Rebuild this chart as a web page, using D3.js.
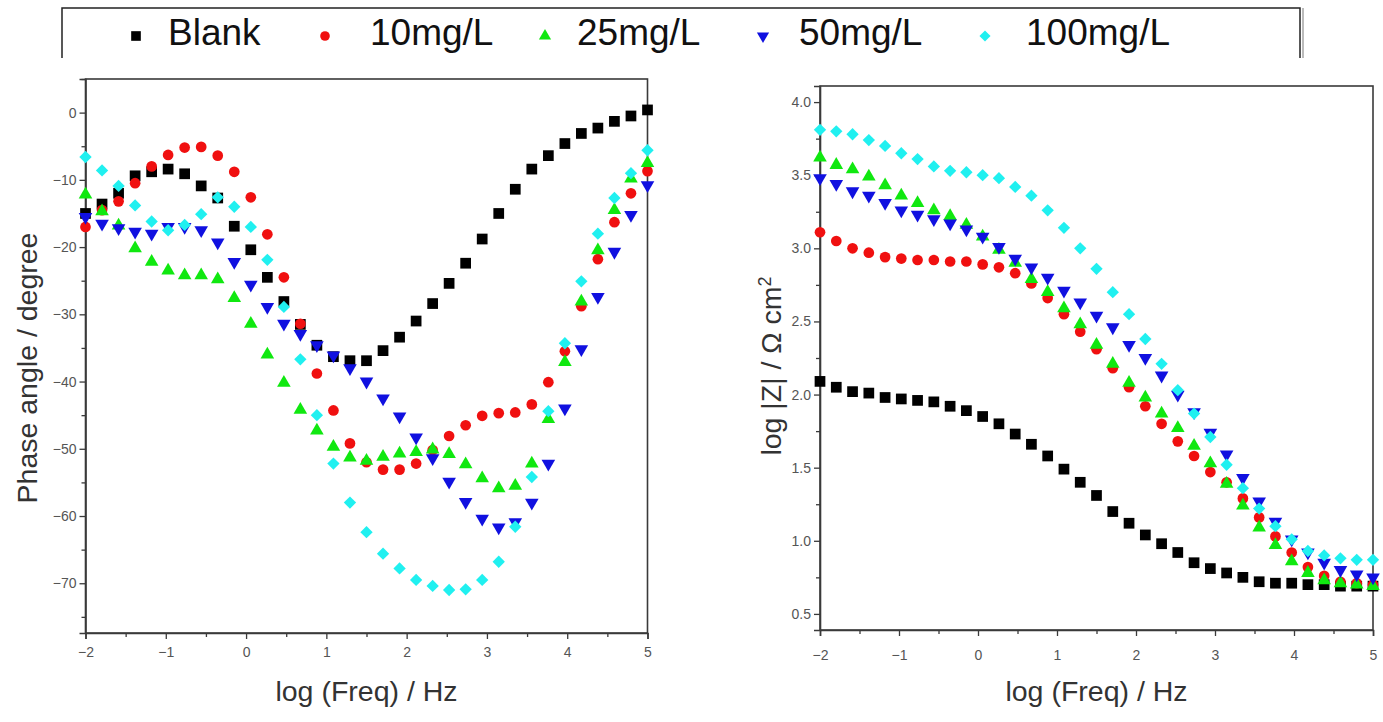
<!DOCTYPE html>
<html>
<head>
<meta charset="utf-8">
<script src="https://cdn.jsdelivr.net/npm/d3@7/dist/d3.min.js"></script>
<style>
  html, body { margin: 0; padding: 0; background: #fff; }
  svg { display: block; }
</style>
</head>
<body>
<svg id="chart" width="1383" height="722"></svg>
<script>
// ---------- DATA ----------
const seriesNames = ["Blank", "10mg/L", "25mg/L", "50mg/L", "100mg/L"];
const logFreq = [-2.000, -1.794, -1.588, -1.382, -1.176, -0.971, -0.765, -0.559, -0.353, -0.147,
                  0.059,  0.265,  0.471,  0.676,  0.882,  1.088,  1.294,  1.500,  1.706,  1.912,
                  2.118,  2.324,  2.529,  2.735,  2.941,  3.147,  3.353,  3.559,  3.765,  3.971,
                  4.176,  4.382,  4.588,  4.794,  5.000];

// Phase angle / degree
const phaseBlank = [-15.0, -13.6, -12.0, -9.4, -8.8, -8.4, -9.1, -10.9, -12.7, -16.9, -20.4, -24.5, -28.1, -31.5, -34.6, -36.3, -36.9, -36.9, -35.4, -33.4, -31.0, -28.4, -25.4, -22.4, -18.8, -15.0, -11.4, -8.4, -6.4, -4.6, -3.1, -2.3, -1.3, -0.5, 0.4];
const phase10 = [-17.0, -14.5, -13.2, -10.5, -8.0, -6.3, -5.2, -5.1, -6.4, -8.8, -12.6, -18.1, -24.5, -31.4, -38.8, -44.3, -49.2, -52.0, -53.1, -53.1, -52.2, -50.2, -48.1, -46.5, -45.1, -44.7, -44.6, -43.4, -40.1, -35.5, -28.8, -21.8, -16.3, -12.0, -8.7];
const phase25 = [-12.2, -14.7, -16.8, -20.2, -22.2, -23.5, -24.2, -24.2, -24.8, -27.6, -31.4, -36.0, -40.2, -44.2, -47.3, -49.7, -51.3, -51.8, -51.2, -50.7, -50.5, -50.1, -50.8, -52.3, -54.4, -55.9, -55.5, -52.2, -45.6, -37.1, -28.1, -20.5, -14.5, -9.8, -7.5];
const phase50 = [-15.5, -16.5, -17.2, -17.7, -18.0, -17.0, -17.0, -17.5, -19.3, -22.2, -25.6, -28.9, -31.4, -32.9, -34.6, -36.1, -38.0, -40.0, -42.5, -45.2, -48.3, -51.4, -54.9, -57.9, -60.4, -61.7, -60.9, -58.0, -52.2, -44.0, -35.2, -27.4, -20.7, -15.2, -10.8];
const phase100 = [-6.6, -8.6, -10.9, -13.8, -16.2, -17.5, -16.7, -15.1, -12.6, -14.0, -17.0, -21.9, -28.9, -36.7, -45.0, -52.2, -58.0, -62.4, -65.6, -67.8, -69.5, -70.4, -71.0, -70.9, -69.5, -66.8, -61.6, -54.2, -44.4, -34.3, -25.1, -18.0, -12.7, -9.0, -5.6];

// log |Z| / Ohm cm2
const logZBlank = [2.09, 2.05, 2.02, 2.01, 1.98, 1.97, 1.96, 1.95, 1.92, 1.89, 1.85, 1.80, 1.73, 1.66, 1.58, 1.49, 1.40, 1.31, 1.20, 1.12, 1.04, 0.98, 0.92, 0.85, 0.81, 0.78, 0.75, 0.72, 0.71, 0.71, 0.70, 0.70, 0.69, 0.69, 0.69];
const logZ10 = [3.11, 3.05, 3.00, 2.97, 2.94, 2.93, 2.92, 2.92, 2.91, 2.91, 2.89, 2.87, 2.83, 2.76, 2.66, 2.55, 2.43, 2.31, 2.18, 2.05, 1.92, 1.80, 1.68, 1.58, 1.47, 1.40, 1.29, 1.16, 1.03, 0.92, 0.82, 0.76, 0.72, 0.71, 0.70];
const logZ25 = [3.62, 3.57, 3.54, 3.49, 3.43, 3.36, 3.31, 3.26, 3.22, 3.16, 3.08, 2.99, 2.90, 2.79, 2.70, 2.59, 2.48, 2.34, 2.21, 2.08, 1.98, 1.87, 1.77, 1.65, 1.53, 1.39, 1.24, 1.09, 0.97, 0.86, 0.78, 0.73, 0.71, 0.70, 0.69];
const logZ50 = [3.48, 3.44, 3.39, 3.36, 3.31, 3.26, 3.23, 3.20, 3.17, 3.13, 3.08, 3.01, 2.93, 2.87, 2.80, 2.71, 2.63, 2.54, 2.46, 2.34, 2.25, 2.13, 2.00, 1.88, 1.74, 1.59, 1.43, 1.27, 1.13, 1.01, 0.92, 0.85, 0.80, 0.77, 0.75];
const logZ100 = [3.81, 3.80, 3.78, 3.74, 3.70, 3.65, 3.61, 3.56, 3.53, 3.52, 3.50, 3.48, 3.42, 3.36, 3.26, 3.14, 3.00, 2.86, 2.70, 2.55, 2.38, 2.21, 2.03, 1.87, 1.71, 1.52, 1.36, 1.22, 1.10, 1.01, 0.93, 0.90, 0.88, 0.87, 0.87];

const xTicks = [-2, -1, 0, 1, 2, 3, 4, 5];
const phaseTicks = [0, -10, -20, -30, -40, -50, -60, -70];
const logZTicks = [0.5, 1.0, 1.5, 2.0, 2.5, 3.0, 3.5, 4.0];

// ---------- STYLE ----------
const colors = ["#000000", "#f01010", "#10e810", "#1010e0", "#20f0f0"];
const shapes = ["square", "circle", "triUp", "triDown", "diamond"];
const tickFont = "'Liberation Sans Narrow', 'Liberation Sans', Arial, sans-serif";
const titleFont = "'Liberation Sans', Arial, sans-serif";

const svg = d3.select("#chart");

function symbolPath(shape, scale) {
  const s = scale || 1;
  switch (shape) {
    case "square": return d3.symbol(d3.symbolSquare, 115 * s * s)();
    case "circle": return d3.symbol(d3.symbolCircle, 90 * s * s)();
    case "triUp": return d3.symbol(d3.symbolTriangle, 80 * s * s)();
    case "triDown": return d3.symbol(d3.symbolTriangle, 80 * s * s)();
    case "diamond": return d3.symbol(d3.symbolSquare, 76 * s * s)();
  }
}
function symbolRot(shape) {
  if (shape === "triDown") return 180;
  if (shape === "diamond") return 45;
  return 0;
}

function drawPanel(opts) {
  const { x0, x1, y0, y1, yDomain, yTicks, yMinor, yFmt, series, yTitle, yTitleX, yTitleY, xTitleY, xLabelDy } = opts;
  const x = d3.scaleLinear().domain([-2, 5]).range([x0, x1]);
  const y = d3.scaleLinear().domain(yDomain).range([y1, y0]);
  const g = svg.append("g");

  // frame
  g.append("rect").attr("x", x0).attr("y", y0).attr("width", x1 - x0).attr("height", y1 - y0)
    .attr("fill", "none").attr("stroke", "#3a3a3a").attr("stroke-width", 1.6);

  // x axis
  const xMinor = d3.range(-1.5, 5, 1);
  g.append("g").attr("transform", `translate(0,${y1})`)
    .call(d3.axisBottom(x).tickValues(xTicks).tickFormat(d3.format("d")).tickSize(6).tickPadding(xLabelDy));
  g.append("g").attr("transform", `translate(0,${y1})`)
    .call(d3.axisBottom(x).tickValues(xMinor).tickFormat("").tickSize(4))
    .call(a => a.select(".domain").remove());

  // y axis
  g.append("g").attr("transform", `translate(${x0},0)`)
    .call(d3.axisLeft(y).tickValues(yTicks).tickFormat(yFmt).tickSize(6).tickPadding(3));
  g.append("g").attr("transform", `translate(${x0},0)`)
    .call(d3.axisLeft(y).tickValues(yMinor).tickFormat("").tickSize(4))
    .call(a => a.select(".domain").remove());

  g.selectAll(".domain").attr("stroke", "#3a3a3a").attr("stroke-width", 1.6);
  g.selectAll(".tick line").attr("stroke", "#3a3a3a").attr("stroke-width", 1.3);
  g.selectAll(".tick text").attr("font-family", tickFont).attr("font-size", 14).attr("fill", "#555");

  // markers
  series.forEach((vals, si) => {
    const shape = shapes[si];
    g.append("g").selectAll("path").data(vals).join("path")
      .attr("d", symbolPath(shape))
      .attr("transform", (d, i) => `translate(${x(logFreq[i])},${y(d)}) rotate(${symbolRot(shape)})`)
      .attr("fill", colors[si]);
  });

  // titles
  g.append("text").attr("x", (x0 + x1) / 2).attr("y", xTitleY)
    .attr("text-anchor", "middle").attr("font-family", titleFont).attr("font-size", 28.5)
    .attr("fill", "#333").text("log (Freq) / Hz");
  const yt = g.append("text")
    .attr("transform", `translate(${yTitleX},${yTitleY}) rotate(-90)`)
    .attr("text-anchor", "middle").attr("font-family", titleFont).attr("font-size", 28.5)
    .attr("fill", "#333");
  yTitle(yt);
}

// Left panel: phase angle
drawPanel({
  x0: 85.5, x1: 647.5, y0: 79, y1: 633,
  yDomain: [-77.4, 5],
  yTicks: phaseTicks,
  yMinor: [5, -5, -15, -25, -35, -45, -55, -65, -75],
  yFmt: d3.format("d"),
  series: [phaseBlank, phase10, phase25, phase50, phase100],
  yTitleX: 37, yTitleY: 368, xTitleY: 701, xLabelDy: 8,
  yTitle: t => t.text("Phase angle / degree")
});

// Right panel: log |Z|
drawPanel({
  x0: 820, x1: 1373, y0: 86, y1: 630,
  yDomain: [0.39, 4.11],
  yTicks: logZTicks,
  yMinor: [0.75, 1.25, 1.75, 2.25, 2.75, 3.25, 3.75],
  yFmt: d3.format(".1f"),
  series: [logZBlank, logZ10, logZ25, logZ50, logZ100],
  yTitleX: 781, yTitleY: 366, xTitleY: 701, xLabelDy: 14,
  yTitle: t => {
    t.append("tspan").text("log |Z| / \u03A9 cm");
    t.append("tspan").attr("baseline-shift", "super").attr("font-size", 18).text("2");
  }
});

// ---------- LEGEND ----------
const leg = svg.append("g");
leg.append("path").attr("d", "M62,58 L62,8 L1300,8 L1300,58")
  .attr("fill", "none").attr("stroke", "#222").attr("stroke-width", 1.5);
leg.append("line").attr("x1", 1303).attr("x2", 1303).attr("y1", 8).attr("y2", 58)
  .attr("stroke", "#bbb").attr("stroke-width", 2);
const legMarkX = [136, 325, 545, 763, 985];
const legTextX = [168, 370, 577, 799, 1026];
seriesNames.forEach((name, si) => {
  const shape = shapes[si];
  leg.append("path")
    .attr("d", symbolPath(shape, 0.9))
    .attr("transform", `translate(${legMarkX[si]},36) rotate(${symbolRot(shape)})`)
    .attr("fill", colors[si]);
  leg.append("text").attr("x", legTextX[si]).attr("y", 45)
    .attr("font-family", titleFont).attr("font-size", 37).attr("fill", "#111").text(name);
});
</script>
</body>
</html>
